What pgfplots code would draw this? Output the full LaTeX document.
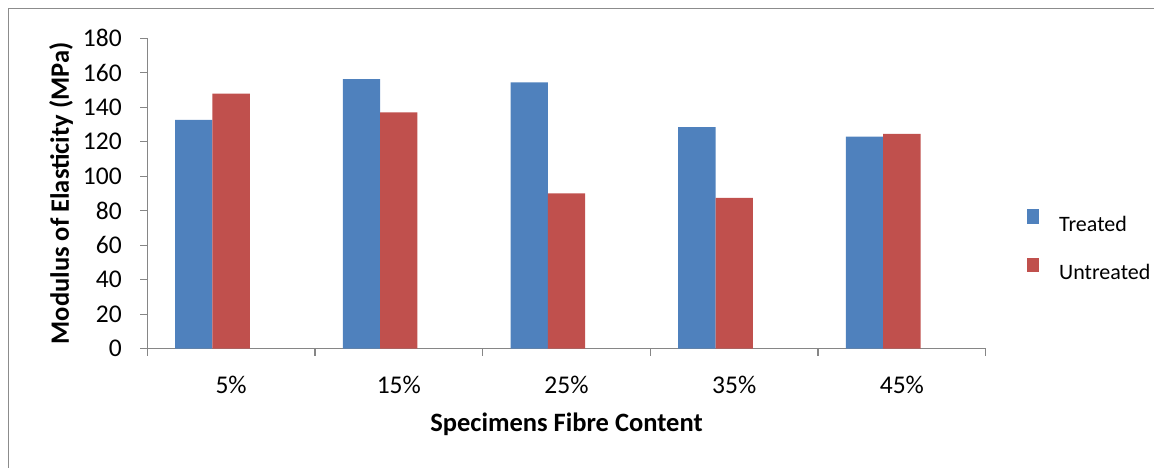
\documentclass[border=0pt]{standalone}
\usepackage{pgfplots}
\pgfplotsset{compat=1.18}
\usepackage{fontspec}
\setmainfont{Carlito}
\definecolor{treated}{HTML}{4F81BD}
\definecolor{untreated}{HTML}{C0504D}
\definecolor{axisgray}{HTML}{868686}
\definecolor{framegray}{HTML}{8C8C8C}

\begin{document}
\begin{tikzpicture}[x=1pt,y=1pt]
\useasboundingbox (0,0) rectangle (1154,-468);
% chart area frame
\begin{scope}
  \clip (0,0) rectangle (1154,-468);
  \draw[framegray, line width=1pt] (8,-9) rectangle (1180,-490);
\end{scope}
\begin{axis}[
  at={(147.3pt,-348.7pt)}, anchor=south west,
  scale only axis, width=838.4pt, height=310.5pt,
  xmin=-0.5, xmax=4.5, ymin=0, ymax=180,
  axis lines*=left,
  axis line style={axisgray, line width=1.3pt},
  tick style={axisgray, line width=1.3pt},
  tick align=outside, major tick length=7pt,
  xtick={-0.5,0.5,...,4.5}, xticklabels={},
  extra x ticks={0,1,2,3,4},
  extra x tick labels={5\%,15\%,25\%,35\%,45\%},
  extra x tick style={major tick length=0pt},
  ytick={0,20,...,180},
  /pgf/number format/assume math mode=true,
  ticklabel style={font=\fontsize{25.5}{30}\selectfont, text=black},
  xticklabel style={yshift=-24pt},
  yticklabel style={xshift=-15pt},
  xlabel={\textbf{Specimens Fibre Content}},
  ylabel={\textbf{Modulus of Elasticity (MPa)}},
  label style={font=\fontsize{26.5}{31}\selectfont},
  xlabel style={at={(axis description cs:0.5,-0.2425)}, anchor=center},
  ylabel style={at={(axis description cs:-0.1029,0.5)}, anchor=center},
  legend style={draw=none, fill=none, at={(1.0457,0.336)}, anchor=west,
    font=\fontsize{22}{26}\selectfont, row sep=26.3pt,
    nodes={inner sep=0pt, text depth=0pt},
    /tikz/every odd column/.append style={column sep=20pt}},
  legend cell align=left,
]
\addplot[ybar, fill=treated, draw=none, bar width=37.3pt, bar shift=-37.3pt,
  legend image code/.code={\fill[treated] (0pt,-0.4pt) rectangle (12pt,14.3pt);}]
  coordinates {(0,132.6) (1,156.3) (2,154.4) (3,128.5) (4,122.9)};
\addplot[ybar, fill=untreated, draw=none, bar width=37.3pt, bar shift=0pt,
  legend image code/.code={\fill[untreated] (0pt,-0.4pt) rectangle (12pt,14.3pt);}]
  coordinates {(0,147.8) (1,137.0) (2,90.1) (3,87.4) (4,124.5)};
\legend{Treated,Untreated}
\end{axis}
\end{tikzpicture}
\end{document}
